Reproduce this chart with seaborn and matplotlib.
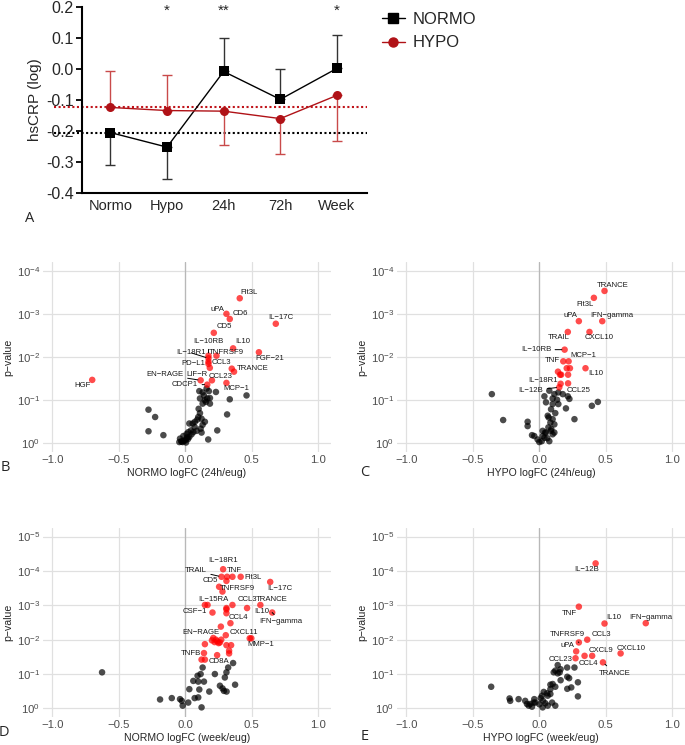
import numpy as np
import pandas as pd
import matplotlib
matplotlib.use('Agg')
import matplotlib.pyplot as plt
from matplotlib.lines import Line2D
from matplotlib.ticker import FuncFormatter
import seaborn as sns

# ---------------- Panel A : hsCRP over time ----------------
timepoints = ['Normo', 'Hypo', '24h', '72h', 'Week']
normo_mean = [-0.205, -0.252, -0.008, -0.098, 0.002]
normo_sd = [0.106, 0.103, 0.108, 0.098, 0.108]
normo_dir = ['down', 'down', 'up', 'up', 'up']
hypo_mean = [-0.124, -0.134, -0.136, -0.160, -0.085]
hypo_sd = [0.119, 0.114, 0.108, 0.113, 0.146]
hypo_dir = ['up', 'up', 'down', 'down', 'down']
signif = ['', '*', '**', '', '*']

# ---------------- Panel B : NORMO 24h/eug ----------------
b_sig_names = ['Flt3L', 'uPA', 'CD6', 'IL-17C', 'CD5', 'IL10', 'FGF-21', 'TNFRSF9',
               'IL-10RB', 'IL-18R1', 'PD-L1', 'CCL3', 'LIF-R', 'TRANCE', '',
               'EN-RAGE', 'CCL23', 'MCP-1', 'CDCP1', 'HGF']
b_sig_fc = [0.409, 0.309, 0.334, 0.68, 0.214, 0.359, 0.553, 0.234,
            0.174, 0.174, 0.174, 0.174, 0.184, 0.349, 0.366,
            0.115, 0.2, 0.309, 0.165, -0.70]
b_sig_lp = [3.36, 3.0, 2.88, 2.77, 2.56, 2.2, 2.11, 2.03,
            2.03, 1.97, 1.89, 1.84, 1.75, 1.73, 1.66,
            1.46, 1.46, 1.40, 1.36, 1.47]
b_ns_fc = [0.105, 0.13, 0.16, 0.177, 0.23, 0.14, 0.11, 0.147, 0.165, 0.185, 0.155, 0.13,
           0.185, 0.334, 0.46, -0.277, -0.227, 0.11, 0.097, 0.072, 0.122, 0.147, 0.055,
           0.314, 0.03, 0.13, 0.115, 0.042, 0.022, 0.01, -0.015, -0.04, -0.027, 0.0, 0.01,
           -0.02, -0.045, 0.03, 0.047, 0.06, 0.085, 0.122, 0.172, 0.24, -0.277, -0.165,
           -0.01, 0.005, 0.02, -0.03, 0.015, 0.07, 0.09, 0.1]
b_ns_lp = [1.21, 1.18, 1.27, 1.21, 1.19, 1.11, 1.04, 1.0, 1.04, 1.05, 0.96, 0.92,
           0.92, 1.02, 1.11, 0.78, 0.61, 0.70, 0.61, 0.50, 0.57, 0.50, 0.46,
           0.67, 0.46, 0.43, 0.34, 0.30, 0.26, 0.22, 0.17, 0.11, 0.05, 0.07, 0.12,
           0.03, 0.03, 0.15, 0.21, 0.26, 0.29, 0.25, 0.09, 0.30, 0.28, 0.19,
           0.06, 0.02, 0.1, 0.04, 0.14, 0.38, 0.55, 0.8]

# ---------------- Panel C : HYPO 24h/eug ----------------
c_sig_names = ['TRANCE', 'Flt3L', 'uPA', 'IFN-gamma', 'TRAIL', 'CXCL10', 'IL-10RB',
               'TNF', 'MCP-1', '', '', 'IL10', '', '', '', '', 'IL-18R1', 'CCL25', 'IL-12B']
c_sig_fc = [0.49, 0.41, 0.297, 0.473, 0.214, 0.377, 0.19,
            0.18, 0.22, 0.206, 0.23, 0.347, 0.14, 0.156, 0.164, 0.216, 0.16, 0.216, 0.15]
c_sig_lp = [3.53, 3.37, 2.83, 2.83, 2.58, 2.58, 2.17,
            1.90, 1.90, 1.74, 1.74, 1.74, 1.66, 1.59, 1.59, 1.59, 1.38, 1.39, 1.30]
c_ns_fc = [-0.357, -0.272, -0.088, -0.088, 0.075, 0.113, 0.143, 0.176, 0.038, 0.1, 0.133,
           0.05, 0.1, 0.143, 0.088, 0.214, 0.226, 0.2, 0.395, 0.44, 0.264, 0.063, 0.1,
           0.083, 0.113, 0.068, 0.088, 0.05, 0.025, -0.013, -0.038, -0.055, 0.018, 0.0,
           0.075, 0.113, 0.1, 0.025, 0.038, 0.043, 0.09, 0.06, 0.07, 0.12]
c_ns_lp = [1.14, 0.54, 0.50, 0.40, 1.22, 1.14, 1.18, 1.14, 1.09, 1.04, 1.01,
           0.95, 0.91, 0.91, 0.79, 1.09, 1.03, 0.81, 0.87, 0.96, 0.56, 0.64, 0.56,
           0.48, 0.44, 0.37, 0.29, 0.25, 0.17, 0.09, 0.17, 0.19, 0.05, 0.03,
           0.05, 0.25, 0.21, 0.29, 0.13, 0.25, 0.33, 0.12, 0.6, 0.7]

# ---------------- Panel D : NORMO week/eug ----------------
d_sig_names = ['IL-18R1', 'TRAIL', 'TNF', '', 'Flt3L', '', 'IL-17C', 'CD5', 'TNFRSF9',
               'IL-15RA', '', 'CCL3', 'TRANCE', '', '', 'IL10', 'IFN-gamma', 'CSF-1', '',
               'CCL4', '', 'CXCL11', 'EN-RAGE', '', '', '', '', '', '', '',
               'MMP-1', '', '', '', '', '', '', 'TNFB', 'CD8A', '', '']
d_sig_fc = [0.284, 0.272, 0.314, 0.354, 0.416, 0.309, 0.638, 0.254, 0.279,
            0.147, 0.167, 0.354, 0.564, 0.309, 0.309, 0.464, 0.653, 0.204, 0.309,
            0.339, 0.267, 0.304, 0.21, 0.23, 0.24, 0.25, 0.22, 0.26, 0.2, 0.27,
            0.484, 0.496, 0.309, 0.344, 0.147, 0.329, 0.329, 0.14, 0.239, 0.122, 0.147]
d_sig_lp = [4.05, 3.83, 3.83, 3.83, 3.83, 3.71, 3.68, 3.54, 3.40,
            3.01, 3.01, 3.01, 3.01, 2.92, 2.88, 2.92, 2.79, 2.79, 2.77,
            2.48, 2.38, 2.13, 2.05, 2.0, 1.95, 1.90, 1.93, 1.92, 1.98, 2.0,
            2.04, 2.04, 1.84, 1.84, 1.87, 1.68, 1.60, 1.61, 1.55, 1.42, 1.42]
d_ns_fc = [0.359, 0.322, 0.309, 0.13, 0.115, 0.092, 0.222, 0.297, 0.06, 0.097, 0.14, 0.03,
           0.18, 0.26, 0.28, 0.29, 0.31, 0.374, -0.19, -0.102, -0.04, -0.027, -0.02,
           0.022, 0.07, 0.097, 0.122, -0.626, 0.105]
d_ns_lp = [1.32, 1.19, 1.05, 1.19, 1.0, 0.95, 1.0, 0.9, 0.8, 0.78, 0.78, 0.56,
           0.49, 0.66, 0.58, 0.51, 0.49, 0.69, 0.26, 0.30, 0.27, 0.22, 0.08,
           0.17, 0.30, 0.32, 0.03, 1.05, 0.55]

# ---------------- Panel E : HYPO week/eug ----------------
e_sig_names = ['IL-12B', 'TNF', 'IL10', 'IFN-gamma', 'CCL3', 'TNFRSF9', 'uPA', 'CCL4',
               'CXCL9', 'CCL23', 'TRANCE', 'CXCL10']
e_sig_fc = [0.423, 0.297, 0.49, 0.8, 0.36, 0.297, 0.277, 0.34, 0.397, 0.272, 0.478, 0.611]
e_sig_lp = [4.22, 2.96, 2.47, 2.48, 2.0, 1.92, 1.66, 1.53, 1.53, 1.46, 1.34, 1.6]
e_ns_fc = [0.138, 0.16, 0.153, 0.12, 0.108, 0.209, 0.264, 0.138, 0.21, 0.224, 0.16, 0.29,
           0.083, 0.1, 0.12, 0.21, 0.24, 0.29, 0.083, 0.058, 0.033, 0.02, 0.063, 0.083,
           0.028, 0.045, 0.063, 0.025, 0.12, 0.096, -0.038, -0.043, -0.068, -0.093, -0.08,
           -0.055, -0.03, -0.106, -0.156, -0.224, -0.219, -0.362, 0.0, 0.01]
e_ns_lp = [1.26, 1.14, 1.05, 1.1, 1.05, 1.19, 1.19, 1.02, 0.92, 0.88, 0.82, 0.76,
           0.69, 0.71, 0.63, 0.57, 0.61, 0.35, 0.56, 0.44, 0.48, 0.37, 0.37, 0.42,
           0.22, 0.15, 0.08, 0.03, 0.08, 0.17, 0.27, 0.17, 0.13, 0.13, 0.08,
           0.05, 0.17, 0.22, 0.27, 0.29, 0.22, 0.63, 0.12, 0.3]

# label placement (text centre in data units) and which ones get a leader line
b_label_pos = {'Flt3L': (0.48, 3.5), 'uPA': (0.24, 3.11), 'CD6': (0.41, 3.0),
               'IL-17C': (0.716, 2.91), 'CD5': (0.29, 2.70), 'IL-10RB': (0.175, 2.35),
               'IL10': (0.434, 2.35), 'IL-18R1': (0.04, 2.1), 'TNFRSF9': (0.31, 2.1),
               'FGF-21': (0.636, 1.97), 'PD-L1': (0.06, 1.84), 'CCL3': (0.272, 1.87),
               'TRANCE': (0.509, 1.73), 'EN-RAGE': (-0.152, 1.59), 'LIF-R': (0.085, 1.59),
               'CCL23': (0.264, 1.56), 'CDCP1': (-0.002, 1.36), 'MCP-1': (0.38, 1.26),
               'HGF': (-0.773, 1.34)}
b_lines = ['IL-10RB', 'IL-18R1', 'EN-RAGE', 'CDCP1']
c_label_pos = {'TRANCE': (0.553, 3.65), 'Flt3L': (0.342, 3.22), 'uPA': (0.234, 2.95),
               'IFN-gamma': (0.546, 2.95), 'TRAIL': (0.146, 2.45), 'CXCL10': (0.453, 2.45),
               'IL-10RB': (-0.025, 2.17), 'MCP-1': (0.332, 2.03), 'TNF': (0.1, 1.93),
               'IL10': (0.423, 1.61), 'IL-18R1': (0.03, 1.45), 'IL-12B': (-0.063, 1.22),
               'CCL25': (0.292, 1.22)}
c_lines = ['IL-10RB', 'IL-12B']
d_label_pos = {'IL-18R1': (0.284, 4.31), 'TRAIL': (0.08, 4.0), 'TNF': (0.367, 4.02),
               'Flt3L': (0.509, 3.81), 'CD5': (0.185, 3.71), 'TNFRSF9': (0.394, 3.49),
               'IL-17C': (0.708, 3.49), 'IL-15RA': (0.209, 3.18), 'CCL3': (0.465, 3.18),
               'TRANCE': (0.648, 3.18), 'CSF-1': (0.072, 2.82), 'IL10': (0.574, 2.82),
               'IFN-gamma': (0.72, 2.52), 'CCL4': (0.399, 2.65), 'EN-RAGE': (0.115, 2.21),
               'CXCL11': (0.439, 2.21), 'MMP-1': (0.564, 1.85), 'TNFB': (0.042, 1.61),
               'CD8A': (0.252, 1.37)}
d_lines = ['TRAIL', 'IFN-gamma']
e_label_pos = {'IL-12B': (0.352, 4.03), 'TNF': (0.226, 2.76), 'IL10': (0.561, 2.65),
               'IFN-gamma': (0.838, 2.65), 'TNFRSF9': (0.209, 2.14), 'CCL3': (0.468, 2.14),
               'uPA': (0.209, 1.82), 'CXCL9': (0.46, 1.68), 'CXCL10': (0.692, 1.75),
               'CCL23': (0.158, 1.41), 'CCL4': (0.367, 1.31), 'TRANCE': (0.566, 1.03)}
e_lines = ['TNFRSF9', 'TRANCE']

sns.set_theme(style='white')
plt.rcParams['font.family'] = ['Liberation Sans', 'DejaVu Sans']
plt.rcParams['mathtext.default'] = 'regular'

W, H = 685, 745
fig = plt.figure(figsize=(W / 100, H / 100), dpi=100)


def box(left, top, right, bottom):
    return [left / W, 1 - bottom / H, (right - left) / W, (bottom - top) / H]


# ---------------- draw panel A ----------------
RED = '#B01217'
axA = fig.add_axes(box(82, 7, 367, 193))
xpos = np.arange(len(timepoints))
df = pd.DataFrame({'t': np.concatenate([xpos, xpos]),
                   'v': normo_mean + hypo_mean,
                   'grp': ['NORMO'] * 5 + ['HYPO'] * 5})

# baseline (Normo) dotted lines, running past the y axis like the original
axA.plot([-1.0, 4.53], [hypo_mean[0]] * 2, ls=(0, (1, 1.2)), color='#C0141A', lw=1.5,
         clip_on=False, zorder=1)
axA.plot([-1.0, 4.53], [normo_mean[0]] * 2, ls=(0, (1, 1.2)), color='black', lw=1.5,
         clip_on=False, zorder=1)

for mean, sd, dirs, col in [(normo_mean, normo_sd, normo_dir, '#333333'),
                            (hypo_mean, hypo_sd, hypo_dir, '#C94A4A')]:
    lo = [s if d == 'down' else 0 for s, d in zip(sd, dirs)]
    hi = [s if d == 'up' else 0 for s, d in zip(sd, dirs)]
    axA.errorbar(xpos, mean, yerr=[lo, hi], fmt='none', ecolor=col, elinewidth=1.0,
                 capsize=3.5, capthick=1.0, zorder=2)

sns.lineplot(data=df, x='t', y='v', hue='grp', style='grp',
             palette={'NORMO': 'black', 'HYPO': RED},
             markers={'NORMO': 's', 'HYPO': 'o'}, dashes=False,
             markersize=6.5, markeredgewidth=0, lw=1.0, legend=False, ax=axA, zorder=3)

for i, s in enumerate(signif):
    if s:
        axA.text(i, 0.188, s, ha='center', va='center', fontsize=11)

axA.set_xlim(-0.5, 4.53)
axA.set_ylim(-0.4, 0.2)
axA.set_xticks(xpos)
axA.set_xticklabels(timepoints, fontsize=10.5)
yt = np.round(np.arange(-0.4, 0.21, 0.1), 1)
axA.set_yticks(yt)
axA.set_yticklabels([f'{v + 0.0:.1f}' if abs(v) > 1e-9 else '0.0' for v in yt], fontsize=11.5)
axA.set_xlabel('')
axA.set_ylabel('hsCRP (log)', fontsize=11, labelpad=3)
axA.tick_params(axis='y', length=4, width=1.3, color='black', pad=2, left=True)
axA.tick_params(axis='x', length=0, pad=4)
sns.despine(ax=axA)
for sp in ['left', 'bottom']:
    axA.spines[sp].set_linewidth(1.5)
    axA.spines[sp].set_color('black')

handles = [Line2D([], [], color='black', marker='s', markersize=6.5, lw=1.0),
           Line2D([], [], color=RED, marker='o', markersize=6.5, lw=1.0)]
fig.legend(handles, ['NORMO', 'HYPO'], loc='upper left',
           bbox_to_anchor=(367 / W, 1 + 3 / H), frameon=False, fontsize=12,
           handlelength=1.35, handletextpad=0.5, labelspacing=0.5)


# ---------------- volcano panels ----------------
def volcano(ax, sig_fc, sig_lp, names, ns_fc, ns_lp, label_pos, lines, xlabel, ymax):
    ax.axvline(0, color='#B8B8B8', lw=0.9, zorder=1)
    d = pd.DataFrame({'fc': ns_fc + sig_fc, 'lp': ns_lp + sig_lp,
                      'sig': ['no'] * len(ns_fc) + ['yes'] * len(sig_fc)})
    sns.scatterplot(data=d, x='fc', y='lp', hue='sig',
                    palette={'no': 'black', 'yes': 'red'}, alpha=0.7, s=22,
                    linewidth=0, legend=False, ax=ax, zorder=3)
    for n, x, y in zip(names, sig_fc, sig_lp):
        if not n or n not in label_pos:
            continue
        tx, ty = label_pos[n]
        shown = n.replace('-', '\u2212')
        if n in lines:
            ax.annotate(shown, xy=(x, y), xytext=(tx, ty), ha='center', va='center',
                        fontsize=5.6, color='#1A1A1A', zorder=4,
                        arrowprops=dict(arrowstyle='-', lw=0.7, color='black',
                                        shrinkA=0.5, shrinkB=2))
        else:
            ax.text(tx, ty, shown, ha='center', va='center', fontsize=5.6,
                    color='#1A1A1A', zorder=4)
    ax.set_xlim(-1.07, 1.095)
    ax.set_ylim(-0.05 * ymax, ymax * 1.05)
    ax.set_xticks([-1.0, -0.5, 0.0, 0.5, 1.0])
    ax.set_yticks(range(0, ymax + 1))
    ax.xaxis.set_major_formatter(FuncFormatter(lambda v, p: f'{v:.1f}'.replace('-', '\u2212')))
    ax.yaxis.set_major_formatter(FuncFormatter(lambda v, p: r'$10^{%d}$' % (-int(round(v)))))
    ax.grid(True, color='#E0E0E0', lw=0.9, zorder=0)
    ax.set_axisbelow(True)
    for sp in ax.spines.values():
        sp.set_visible(False)
    ax.tick_params(length=0, labelsize=8.2, labelcolor='#4D4D4D', pad=2)
    ax.set_xlabel(xlabel, fontsize=7.6, labelpad=2)
    ax.set_ylabel('p\u2212value', fontsize=7.6, labelpad=2)


axB = fig.add_axes(box(43, 262, 331, 452))
volcano(axB, b_sig_fc, b_sig_lp, b_sig_names, b_ns_fc, b_ns_lp, b_label_pos, b_lines,
        'NORMO logFC (24h/eug)', 4)
axC = fig.add_axes(box(397, 262, 685, 452))
volcano(axC, c_sig_fc, c_sig_lp, c_sig_names, c_ns_fc, c_ns_lp, c_label_pos, c_lines,
        'HYPO logFC (24h/eug)', 4)
axD = fig.add_axes(box(43, 528, 331, 717))
volcano(axD, d_sig_fc, d_sig_lp, d_sig_names, d_ns_fc, d_ns_lp, d_label_pos, d_lines,
        'NORMO logFC (week/eug)', 5)
axE = fig.add_axes(box(397, 528, 685, 717))
volcano(axE, e_sig_fc, e_sig_lp, e_sig_names, e_ns_fc, e_ns_lp, e_label_pos, e_lines,
        'HYPO logFC (week/eug)', 5)

# panel letters
for letter, px, py in [('A', 30, 218), ('B', 5, 467), ('C', 365, 473),
                       ('D', 4, 733), ('E', 365, 737)]:
    fig.text(px / W, 1 - py / H, letter, ha='center', va='center', fontsize=10.5,
             family=['Open Sans', 'DejaVu Sans'])

fig.savefig('out.png', dpi=100)
